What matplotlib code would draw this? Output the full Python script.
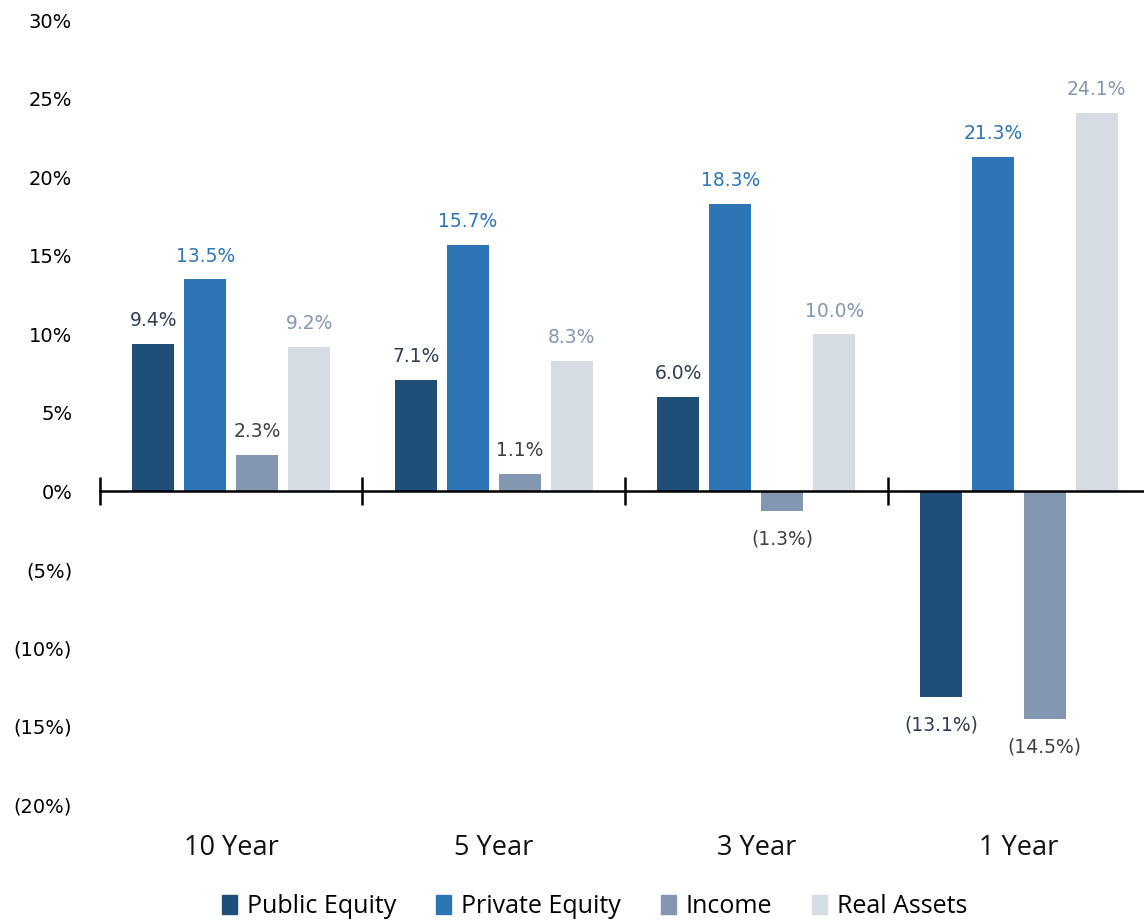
import matplotlib.pyplot as plt
from matplotlib.transforms import blended_transform_factory
from matplotlib.patches import Patch

PERIODS = ["10 Year", "5 Year", "3 Year", "1 Year"]
SERIES = ["Public Equity", "Private Equity", "Income", "Real Assets"]
PUBLIC_EQUITY = [9.4, 7.1, 6.0, -13.1]
PRIVATE_EQUITY = [13.5, 15.7, 18.3, 21.3]
INCOME = [2.3, 1.1, -1.3, -14.5]
REAL_ASSETS = [9.2, 8.3, 10.0, 24.1]
Y_TICKS = [30, 25, 20, 15, 10, 5, 0, -5, -10, -15, -20]

BAR_COLORS = ["#1F4E79", "#2E75B6", "#8497B0", "#D6DCE4"]
LABEL_COLORS = ["#2F3E52", "#2E75B6", "#404040", "#8497B0"]


def fmt(value):
    return f"({abs(value):.1f}%)" if value < 0 else f"{value:.1f}%"


def main():
    fig = plt.figure(figsize=(11.44, 9.22), dpi=100)
    ax = fig.add_axes([0.0874, 0.127, 0.9126, 0.851])
    values = [PUBLIC_EQUITY, PRIVATE_EQUITY, INCOME, REAL_ASSETS]
    pitch, width = 0.198, 0.16
    for i, (name, vals) in enumerate(zip(SERIES, values)):
        xs = [g + (i - 1.5) * pitch for g in range(len(PERIODS))]
        ax.bar(xs, vals, width=width, color=BAR_COLORS[i], label=name, zorder=2)
        for x, v in zip(xs, vals):
            offset = 23 if v >= 0 else -28
            ax.annotate(fmt(v), (x, v), xytext=(0, offset), textcoords="offset pixels",
                        ha="center", va="center", fontsize=13.5, color=LABEL_COLORS[i],
                        family="DejaVu Sans")

    ax.set_ylim(-20, 30)
    ax.set_xlim(-0.5, 3.477)
    ax.set_yticks(Y_TICKS, [fmt(t).replace(".0", "") if t else "0%" for t in Y_TICKS],
                  fontsize=14, family="DejaVu Sans")
    ax.tick_params(axis="y", length=0, pad=20)
    for side in ("top", "right", "left"):
        ax.spines[side].set_visible(False)
    ax.spines["bottom"].set_position(("data", 0))
    ax.spines["bottom"].set_linewidth(1.8)
    ax.spines["bottom"].set_zorder(3)
    ax.set_xticks([-0.5, 0.5, 1.5, 2.5], [])
    ax.tick_params(axis="x", direction="inout", length=20, width=1.8)

    trans = blended_transform_factory(ax.transData, ax.transAxes)
    for g, period in enumerate(PERIODS):
        ax.text(g, -0.055, period, transform=trans, ha="center", va="center",
                fontsize=19.5, color="#111111", family="Open Sans")

    handles = [Patch(color=c, label=s) for c, s in zip(BAR_COLORS, SERIES)]
    fig.legend(handles=handles, loc="center", bbox_to_anchor=(0.52, 0.017), ncol=4,
               frameon=False, handlelength=0.6, handleheight=0.8, handletextpad=0.4,
               columnspacing=1.6, prop={"family": "Open Sans", "size": 18})
    fig.savefig("out.png", dpi=100)


if __name__ == "__main__":
    main()
